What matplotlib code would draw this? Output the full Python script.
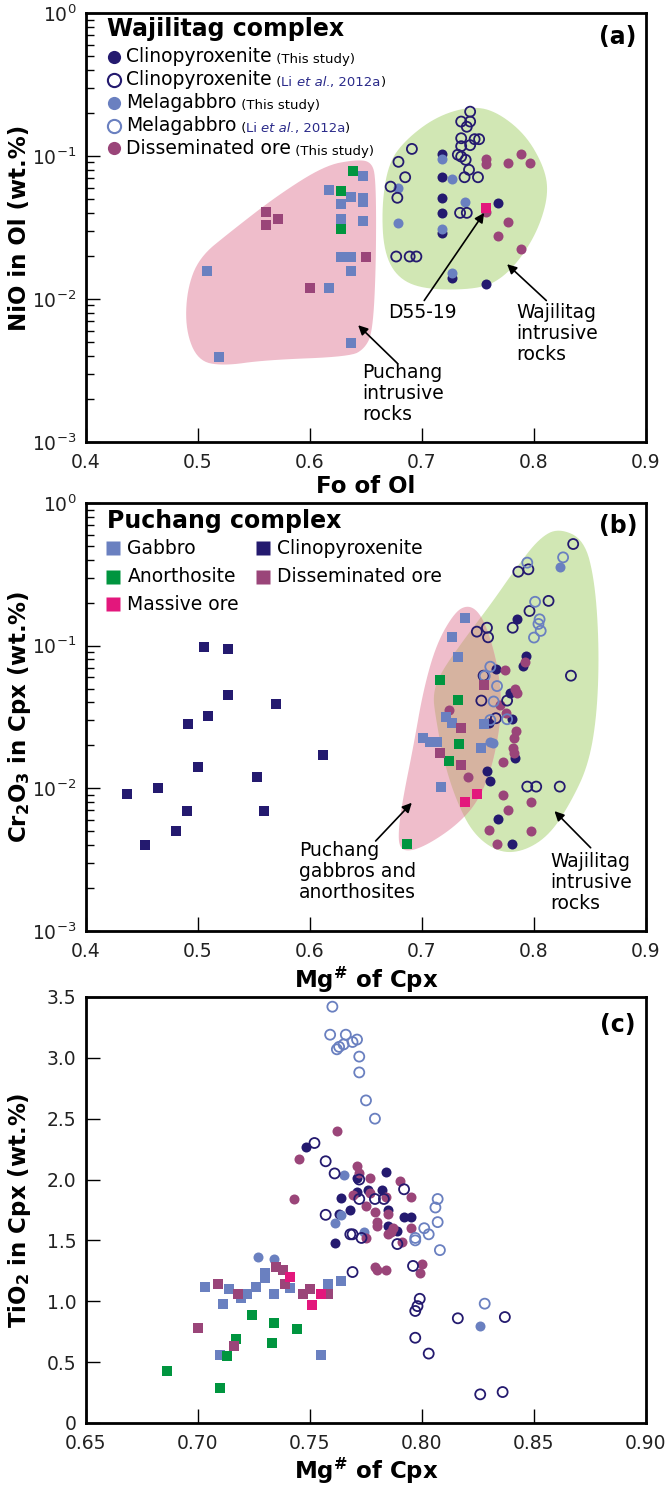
import numpy as np
import matplotlib
matplotlib.use('Agg')
import matplotlib.pyplot as plt
from matplotlib.patches import Polygon

plt.rcParams['font.family'] = ['DejaVu Sans']
plt.rcParams['mathtext.default'] = 'regular'

NAVY = '#241a6f'
LBLUE = '#6a80c0'
PURPLE = '#9a4579'
GREEN = '#00953f'
MAGENTA = '#e3177c'
CITE = '#2b2b8a'
PINK_FIELD = '#efbdcb'
GREEN_FIELD = '#d1e7b4'
MIX_FIELD = '#d6b3a0'

# ---------------- panel (a): NiO in olivine vs Fo ----------------
a_gab_x = [0.647, 0.617, 0.637, 0.647, 0.647, 0.628, 0.628, 0.647, 0.628, 0.637, 0.637, 0.508, 0.617, 0.637, 0.519]
a_gab_y = [0.0728, 0.0578, 0.0519, 0.0506, 0.0480, 0.0462, 0.0361, 0.0353, 0.0198, 0.0198, 0.0158, 0.0158, 0.0120, 0.00495, 0.00391]
a_ano_x = [0.638, 0.628, 0.628]
a_ano_y = [0.0785, 0.0572, 0.0309]
a_pdis_x = [0.561, 0.571, 0.561, 0.650, 0.600]
a_pdis_y = [0.0408, 0.0363, 0.0327, 0.0198, 0.0120]
a_mass_x = [0.757]
a_mass_y = [0.0431]
a_cpx_x = [0.718, 0.718, 0.718, 0.718, 0.718, 0.727, 0.757, 0.768]
a_cpx_y = [0.104, 0.071, 0.051, 0.0397, 0.0288, 0.0140, 0.0127, 0.0467]
a_mel_x = [0.718, 0.727, 0.679, 0.738, 0.679, 0.718, 0.727]
a_mel_y = [0.0948, 0.0687, 0.060, 0.048, 0.0338, 0.0307, 0.0151]
a_dis_x = [0.757, 0.757, 0.777, 0.788, 0.796, 0.777, 0.768, 0.788, 0.757]
a_dis_y = [0.0948, 0.0879, 0.0898, 0.103, 0.0898, 0.0344, 0.0276, 0.0224, 0.0408]
a_cpx_li_x = [0.743, 0.735, 0.743, 0.740, 0.735, 0.743, 0.747, 0.751, 0.735, 0.732, 0.735, 0.739, 0.742,
              0.738, 0.750, 0.691, 0.679, 0.685, 0.672, 0.678, 0.734, 0.740, 0.677, 0.689, 0.695]
a_cpx_li_y = [0.204, 0.174, 0.174, 0.160, 0.133, 0.119, 0.131, 0.131, 0.117, 0.102, 0.099, 0.094, 0.080,
              0.071, 0.071, 0.112, 0.091, 0.071, 0.061, 0.051, 0.040, 0.040, 0.0198, 0.0198, 0.0198]

# field outlines (a)
a_pink_x = [0.640, 0.655, 0.659, 0.659, 0.656, 0.649, 0.636, 0.560, 0.522, 0.500, 0.489, 0.490, 0.501, 0.529, 0.571, 0.613]
a_pink_y = [0.0940, 0.0915, 0.0681, 0.0171, 0.00589, 0.00451, 0.00395, 0.00374, 0.00340, 0.00370, 0.00600,
            0.0115, 0.0195, 0.0295, 0.0530, 0.0855]
a_green_x = [0.742, 0.765, 0.792, 0.809, 0.813, 0.805, 0.790, 0.771, 0.750, 0.704, 0.679, 0.666, 0.664, 0.670, 0.685, 0.712]
a_green_y = [0.222, 0.208, 0.143, 0.0841, 0.0550, 0.0323, 0.0200, 0.0138, 0.0117, 0.0116, 0.0138, 0.0211,
             0.0445, 0.0887, 0.129, 0.187]

# ---------------- panel (b): Cr2O3 in Cpx vs Mg# ----------------
b_pcpx_x = [0.505, 0.527, 0.527, 0.570, 0.509, 0.491, 0.612, 0.500, 0.553, 0.464, 0.437, 0.490, 0.559, 0.480, 0.453]
b_pcpx_y = [0.098, 0.094, 0.0454, 0.0387, 0.0320, 0.0283, 0.0171, 0.01416, 0.01205, 0.01009, 0.00906, 0.00692,
            0.00692, 0.00501, 0.0040]
b_gab_x = [0.738, 0.727, 0.732, 0.721, 0.727, 0.755, 0.701, 0.707, 0.713, 0.753, 0.717]
b_gab_y = [0.157, 0.1145, 0.0829, 0.0318, 0.0288, 0.0281, 0.0224, 0.0212, 0.0212, 0.0191, 0.0102]
b_ano_x = [0.716, 0.732, 0.733, 0.724, 0.687]
b_ano_y = [0.0575, 0.0416, 0.0204, 0.0156, 0.00407]
b_pdis_x = [0.755, 0.735, 0.716, 0.735]
b_pdis_y = [0.0530, 0.0263, 0.0178, 0.0146]
b_mass_x = [0.738, 0.749]
b_mass_y = [0.00807, 0.00908]
b_dis_x = [0.774, 0.783, 0.785, 0.770, 0.775, 0.784, 0.782, 0.781, 0.782, 0.772, 0.724, 0.741, 0.772, 0.797,
           0.777, 0.760, 0.797, 0.767, 0.792]
b_dis_y = [0.0676, 0.0494, 0.0469, 0.0384, 0.0339, 0.0254, 0.0224, 0.0191, 0.0178, 0.0154, 0.0354, 0.0121,
           0.00898, 0.00807, 0.00705, 0.0051, 0.00505, 0.00407, 0.0773]
b_cpx_x = [0.785, 0.793, 0.790, 0.766, 0.779, 0.780, 0.760, 0.783, 0.758, 0.761, 0.768, 0.780]
b_cpx_y = [0.154, 0.0847, 0.0720, 0.0682, 0.0463, 0.0305, 0.0289, 0.0162, 0.0133, 0.0113, 0.00606, 0.00407]
b_mel_x = [0.823, 0.761, 0.763]
b_mel_y = [0.354, 0.0212, 0.0207]
b_cpx_li_x = [0.835, 0.786, 0.795, 0.796, 0.813, 0.749, 0.758, 0.759, 0.781, 0.833, 0.755, 0.753, 0.776,
              0.766, 0.794, 0.802, 0.823]
b_cpx_li_y = [0.516, 0.330, 0.343, 0.175, 0.206, 0.1254, 0.1336, 0.1145, 0.1336, 0.0616, 0.0616, 0.0412,
              0.0412, 0.0310, 0.01028, 0.01028, 0.01028]
b_mel_li_x = [0.826, 0.794, 0.801, 0.805, 0.804, 0.806, 0.800, 0.761, 0.756, 0.767, 0.764, 0.761, 0.776]
b_mel_li_y = [0.416, 0.382, 0.203, 0.153, 0.142, 0.127, 0.114, 0.0712, 0.0613, 0.0521, 0.0406, 0.0301, 0.0305]

# field outlines (b)
b_pink_x = [0.7414, 0.7518, 0.7607, 0.7682, 0.7711, 0.7682, 0.7607, 0.7488, 0.7310, 0.7071, 0.6893, 0.6798,
            0.6789, 0.6833, 0.6923, 0.7012, 0.7131, 0.7295]
b_pink_y = [0.193, 0.169, 0.116, 0.0676, 0.0394, 0.0230, 0.0127, 0.00785, 0.00553, 0.00411, 0.00360, 0.00380,
            0.00511, 0.00875, 0.0196, 0.0489, 0.104, 0.173]
b_green_x = [0.8221, 0.8449, 0.8544, 0.8582, 0.8563, 0.8487, 0.8335, 0.8144, 0.7916, 0.7688, 0.7460, 0.7308,
             0.7194, 0.7118, 0.7099, 0.7156, 0.7384, 0.7612, 0.7840, 0.8049]
b_green_y = [0.668, 0.553, 0.282, 0.0964, 0.0329, 0.0147, 0.00813, 0.00475, 0.00363, 0.00353, 0.00475, 0.00813,
             0.0155, 0.0329, 0.0454, 0.0628, 0.113, 0.194, 0.351, 0.569]

# ---------------- panel (c): TiO2 in Cpx vs Mg# ----------------
c_mel_li_x = [0.760, 0.759, 0.766, 0.771, 0.769, 0.765, 0.763, 0.762, 0.772, 0.772, 0.775, 0.779, 0.807, 0.806,
              0.807, 0.801, 0.803, 0.797, 0.797, 0.808, 0.828]
c_mel_li_y = [3.42, 3.19, 3.19, 3.15, 3.13, 3.11, 3.09, 3.07, 3.01, 2.88, 2.65, 2.50, 1.84, 1.77, 1.65, 1.60,
              1.55, 1.52, 1.50, 1.42, 0.98]
c_cpx_li_x = [0.752, 0.757, 0.761, 0.772, 0.757, 0.772, 0.779, 0.783, 0.792, 0.768, 0.769, 0.773, 0.789, 0.796,
              0.769, 0.799, 0.798, 0.797, 0.797, 0.803, 0.816, 0.837, 0.826, 0.836]
c_cpx_li_y = [2.30, 2.15, 2.05, 2.00, 1.71, 1.84, 1.84, 1.84, 1.92, 1.55, 1.55, 1.52, 1.47, 1.29, 1.24, 1.02,
              0.96, 0.92, 0.70, 0.57, 0.86, 0.87, 0.235, 0.254]
c_cpx_x = [0.748, 0.784, 0.764, 0.771, 0.776, 0.782, 0.763, 0.768, 0.785, 0.785, 0.792, 0.795, 0.789, 0.761, 0.771]
c_cpx_y = [2.27, 2.06, 1.85, 1.90, 1.91, 1.91, 1.72, 1.75, 1.75, 1.62, 1.69, 1.69, 1.58, 1.48, 2.01]
c_mel_x = [0.765, 0.764, 0.761, 0.774, 0.727, 0.734, 0.826]
c_mel_y = [2.04, 1.71, 1.64, 1.57, 1.36, 1.35, 0.80]
c_dis_x = [0.762, 0.745, 0.743, 0.771, 0.772, 0.777, 0.790, 0.769, 0.777, 0.784, 0.795, 0.775, 0.779, 0.785,
           0.780, 0.780, 0.786, 0.785, 0.787, 0.795, 0.791, 0.775, 0.779, 0.780, 0.784, 0.800, 0.799]
c_dis_y = [2.40, 2.17, 1.84, 2.11, 2.05, 2.01, 1.99, 1.87, 1.89, 1.86, 1.86, 1.78, 1.73, 1.72, 1.65, 1.62,
           1.57, 1.55, 1.60, 1.60, 1.49, 1.52, 1.28, 1.26, 1.26, 1.31, 1.23]
c_gab_x = [0.703, 0.711, 0.710, 0.714, 0.719, 0.722, 0.726, 0.730, 0.730, 0.734, 0.741, 0.758, 0.764, 0.755]
c_gab_y = [1.12, 0.975, 0.56, 1.10, 1.03, 1.06, 1.12, 1.19, 1.23, 1.06, 1.11, 1.14, 1.17, 0.56]
c_pdis_x = [0.709, 0.700, 0.716, 0.718, 0.735, 0.738, 0.739, 0.747, 0.750, 0.758]
c_pdis_y = [1.14, 0.78, 0.63, 1.06, 1.28, 1.26, 1.14, 1.06, 1.10, 1.06]
c_ano_x = [0.686, 0.710, 0.713, 0.717, 0.724, 0.734, 0.733, 0.744]
c_ano_y = [0.43, 0.285, 0.55, 0.69, 0.89, 0.82, 0.66, 0.77]
c_mass_x = [0.741, 0.751, 0.755]
c_mass_y = [1.20, 0.97, 1.06]

# ticks
ab_xticks = [0.4, 0.5, 0.6, 0.7, 0.8, 0.9]
ab_xticklabels = ['0.4', '0.5', '0.6', '0.7', '0.8', '0.9']
c_xticks = [0.65, 0.70, 0.75, 0.80, 0.85, 0.90]
c_xticklabels = ['0.65', '0.70', '0.75', '0.80', '0.85', '0.90']
c_yticks = [0, 0.5, 1.0, 1.5, 2.0, 2.5, 3.0, 3.5]
c_yticklabels = ['0', '0.5', '1.0', '1.5', '2.0', '2.5', '3.0', '3.5']

MS = 52        # marker area (pt^2)


def smooth_outline(xs, ys, logy=True, n=3):
    pts = np.column_stack([xs, np.log10(ys) if logy else ys]).astype(float)
    for _ in range(n):
        nxt = np.roll(pts, -1, axis=0)
        q = 0.75 * pts + 0.25 * nxt
        r = 0.25 * pts + 0.75 * nxt
        new = np.empty((2 * len(pts), 2))
        new[0::2] = q
        new[1::2] = r
        pts = new
    if logy:
        pts[:, 1] = 10 ** pts[:, 1]
    return pts


def add_field(ax, xs, ys, color, z=0.5):
    p = Polygon(smooth_outline(xs, ys), closed=True, facecolor=color, edgecolor='none', zorder=z)
    ax.add_patch(p)
    return p


def dots(ax, x, y, color, marker='o', hollow=False, z=3):
    if hollow:
        ax.scatter(x, y, s=MS, marker=marker, facecolors='none', edgecolors=color, linewidths=1.3, zorder=z)
    else:
        ax.scatter(x, y, s=MS, marker=marker, c=color, linewidths=0, zorder=z)


def chain_text(ax, x, y, pieces):
    prev = None
    for s, kw in pieces:
        if prev is None:
            prev = ax.text(x, y, s, transform=ax.transAxes, va='center', ha='left', **kw)
        else:
            prev = ax.annotate(s, xy=(1, 0), xycoords=prev, va='bottom', ha='left', **kw)


def legend_row(ax, xm, xt, y, marker, color, hollow, pieces, ms=9.5):
    if hollow:
        ax.plot([xm], [y], marker=marker, ms=ms, mfc='none', mec=color, mew=1.5, ls='none',
                transform=ax.transAxes, clip_on=False)
    else:
        ax.plot([xm], [y], marker=marker, ms=ms, mfc=color, mec='none', ls='none',
                transform=ax.transAxes, clip_on=False)
    chain_text(ax, xt, y, pieces)


def style_axes(ax):
    for sp in ax.spines.values():
        sp.set_linewidth(2.0)
    ax.tick_params(which='both', direction='in', top=False, right=False, labelsize=13.5,
                   labelcolor='#222222', width=1.0)
    ax.tick_params(which='major', length=10)
    ax.tick_params(which='minor', length=6)
    ax.tick_params(axis='x', pad=8)
    ax.tick_params(axis='y', pad=7)
    ax.yaxis.set_label_coords(-0.118, 0.5)
    ax.yaxis.label.set_va('center')


def arrow(ax, tail, tip):
    ax.annotate('', xy=tip, xytext=tail,
                arrowprops=dict(arrowstyle='-|>', color='black', lw=1.2, mutation_scale=14, shrinkA=0, shrinkB=0),
                zorder=6)


fig = plt.figure(figsize=(6.65, 14.9), dpi=100)
axa = fig.add_axes([0.1293, 0.7034, 0.8421, 0.2879])
axb = fig.add_axes([0.1293, 0.3752, 0.8421, 0.2872])
axc = fig.add_axes([0.1293, 0.0450, 0.8421, 0.2859])

lab_kw = dict(fontsize=16.5, fontweight='bold')
ann_kw = dict(fontsize=13.5, linespacing=1.15, ha='left', va='top', zorder=6)
big = dict(fontsize=13.5, color='black')
small = dict(fontsize=9.5, color='black')
cite = dict(fontsize=9.5, color=CITE)
cite_it = dict(fontsize=9.5, color=CITE, fontstyle='italic')

# ---- (a) ----
ax = axa
ax.set_yscale('log')
add_field(ax, a_pink_x, a_pink_y, PINK_FIELD)
add_field(ax, a_green_x, a_green_y, GREEN_FIELD)
dots(ax, a_cpx_x, a_cpx_y, NAVY)
dots(ax, a_mel_x, a_mel_y, LBLUE, z=3.2)
dots(ax, a_dis_x, a_dis_y, PURPLE, z=3.1)
dots(ax, a_cpx_li_x, a_cpx_li_y, NAVY, hollow=True, z=3.3)
dots(ax, a_gab_x, a_gab_y, LBLUE, marker='s')
dots(ax, a_ano_x, a_ano_y, GREEN, marker='s', z=3.1)
dots(ax, a_pdis_x, a_pdis_y, PURPLE, marker='s')
dots(ax, a_mass_x, a_mass_y, MAGENTA, marker='s', z=3.5)
ax.set_xlim(0.4, 0.9)
ax.set_ylim(1e-3, 1)
ax.set_xticks(ab_xticks)
ax.set_xticklabels(ab_xticklabels)
ax.set_xlabel('Fo of Ol', **lab_kw)
ax.set_ylabel('NiO in Ol (wt.%)', **lab_kw)
style_axes(ax)
ax.xaxis.set_label_coords(0.5, -0.078)

ax.text(0.037, 0.963, 'Wajilitag complex', transform=ax.transAxes, fontsize=17, fontweight='bold',
        va='center', ha='left')
ax.text(0.95, 0.945, '(a)', transform=ax.transAxes, fontsize=17, fontweight='bold', va='center', ha='center')
rows_a = [0.898, 0.844, 0.791, 0.737, 0.685]
legend_row(ax, 0.05, 0.072, rows_a[0], 'o', NAVY, False, [('Clinopyroxenite', big), (' (This study)', small)])
legend_row(ax, 0.05, 0.072, rows_a[1], 'o', NAVY, True,
           [('Clinopyroxenite', big), (' (', small), ('Li ', cite), ('et al.', cite_it), (', 2012a', cite),
            (')', small)])
legend_row(ax, 0.05, 0.072, rows_a[2], 'o', LBLUE, False, [('Melagabbro', big), (' (This study)', small)])
legend_row(ax, 0.05, 0.072, rows_a[3], 'o', LBLUE, True,
           [('Melagabbro', big), (' (', small), ('Li ', cite), ('et al.', cite_it), (', 2012a', cite),
            (')', small)])
legend_row(ax, 0.05, 0.072, rows_a[4], 'o', PURPLE, False, [('Disseminated ore', big), (' (This study)', small)])

ax.text(0.670, 0.0094, 'D55-19', **ann_kw)
ax.text(0.784, 0.0094, 'Wajilitag\nintrusive\nrocks', **ann_kw)
ax.text(0.647, 0.00357, 'Puchang\nintrusive\nrocks', **ann_kw)
arrow(ax, (0.702, 0.00975), (0.7555, 0.0400))
arrow(ax, (0.811, 0.00975), (0.776, 0.0175))
arrow(ax, (0.678, 0.00355), (0.643, 0.00655))

# ---- (b) ----
ax = axb
ax.set_yscale('log')
gpatch = add_field(ax, b_green_x, b_green_y, GREEN_FIELD)
add_field(ax, b_pink_x, b_pink_y, PINK_FIELD, z=0.6)
mix = add_field(ax, b_pink_x, b_pink_y, MIX_FIELD, z=0.7)
mix.set_clip_path(gpatch)
dots(ax, b_pcpx_x, b_pcpx_y, NAVY, marker='s')
dots(ax, b_cpx_x, b_cpx_y, NAVY)
dots(ax, b_dis_x, b_dis_y, PURPLE, z=3.1)
dots(ax, b_mel_x, b_mel_y, LBLUE, z=3.2)
dots(ax, b_cpx_li_x, b_cpx_li_y, NAVY, hollow=True, z=3.3)
dots(ax, b_mel_li_x, b_mel_li_y, LBLUE, hollow=True, z=3.3)
dots(ax, b_gab_x, b_gab_y, LBLUE, marker='s', z=3.4)
dots(ax, b_ano_x, b_ano_y, GREEN, marker='s', z=3.4)
dots(ax, b_pdis_x, b_pdis_y, PURPLE, marker='s', z=3.4)
dots(ax, b_mass_x, b_mass_y, MAGENTA, marker='s', z=3.5)
ax.set_xlim(0.4, 0.9)
ax.set_ylim(1e-3, 1)
ax.set_xticks(ab_xticks)
ax.set_xticklabels(ab_xticklabels)
ax.set_xlabel('Mg$^{\\#}$ of Cpx', **lab_kw)
ax.set_ylabel('Cr$_2$O$_3$ in Cpx (wt.%)', **lab_kw)
style_axes(ax)
ax.xaxis.set_label_coords(0.5, -0.078)

ax.text(0.037, 0.958, 'Puchang complex', transform=ax.transAxes, fontsize=17, fontweight='bold',
        va='center', ha='left')
ax.text(0.95, 0.947, '(b)', transform=ax.transAxes, fontsize=17, fontweight='bold', va='center', ha='center')
rows_b = [0.894, 0.828, 0.763]
legend_row(ax, 0.048, 0.074, rows_b[0], 's', LBLUE, False, [('Gabbro', big)])
legend_row(ax, 0.048, 0.074, rows_b[1], 's', GREEN, False, [('Anorthosite', big)])
legend_row(ax, 0.048, 0.074, rows_b[2], 's', MAGENTA, False, [('Massive ore', big)])
legend_row(ax, 0.316, 0.341, rows_b[0], 's', NAVY, False, [('Clinopyroxenite', big)])
legend_row(ax, 0.316, 0.341, rows_b[1], 's', PURPLE, False, [('Disseminated ore', big)])

ax.text(0.590, 0.0043, 'Puchang\ngabbros and\nanorthosites', **ann_kw)
ax.text(0.8144, 0.0036, 'Wajilitag\nintrusive\nrocks', **ann_kw)
arrow(ax, (0.6586, 0.00427), (0.6909, 0.00792))
arrow(ax, (0.8506, 0.00383), (0.8183, 0.00692))

# ---- (c) ----
ax = axc
dots(ax, c_cpx_x, c_cpx_y, NAVY)
dots(ax, c_mel_x, c_mel_y, LBLUE, z=3.05)
dots(ax, c_dis_x, c_dis_y, PURPLE, z=3.1)
dots(ax, c_cpx_li_x, c_cpx_li_y, NAVY, hollow=True, z=3.3)
dots(ax, c_mel_li_x, c_mel_li_y, LBLUE, hollow=True, z=3.3)
dots(ax, c_gab_x, c_gab_y, LBLUE, marker='s', z=3.4)
dots(ax, c_pdis_x, c_pdis_y, PURPLE, marker='s', z=3.45)
dots(ax, c_ano_x, c_ano_y, GREEN, marker='s', z=3.4)
dots(ax, c_mass_x, c_mass_y, MAGENTA, marker='s', z=3.5)
ax.set_xlim(0.65, 0.90)
ax.set_ylim(0, 3.5)
ax.set_xticks(c_xticks)
ax.set_xticklabels(c_xticklabels)
ax.set_yticks(c_yticks)
ax.set_yticklabels(c_yticklabels)
ax.set_xlabel('Mg$^{\\#}$ of Cpx', **lab_kw)
ax.set_ylabel('TiO$_2$ in Cpx (wt.%)', **lab_kw)
style_axes(ax)
ax.xaxis.set_label_coords(0.5, -0.078)
ax.text(0.95, 0.934, '(c)', transform=ax.transAxes, fontsize=17, fontweight='bold', va='center', ha='center')

fig.savefig('out.png', dpi=100, facecolor='white')
